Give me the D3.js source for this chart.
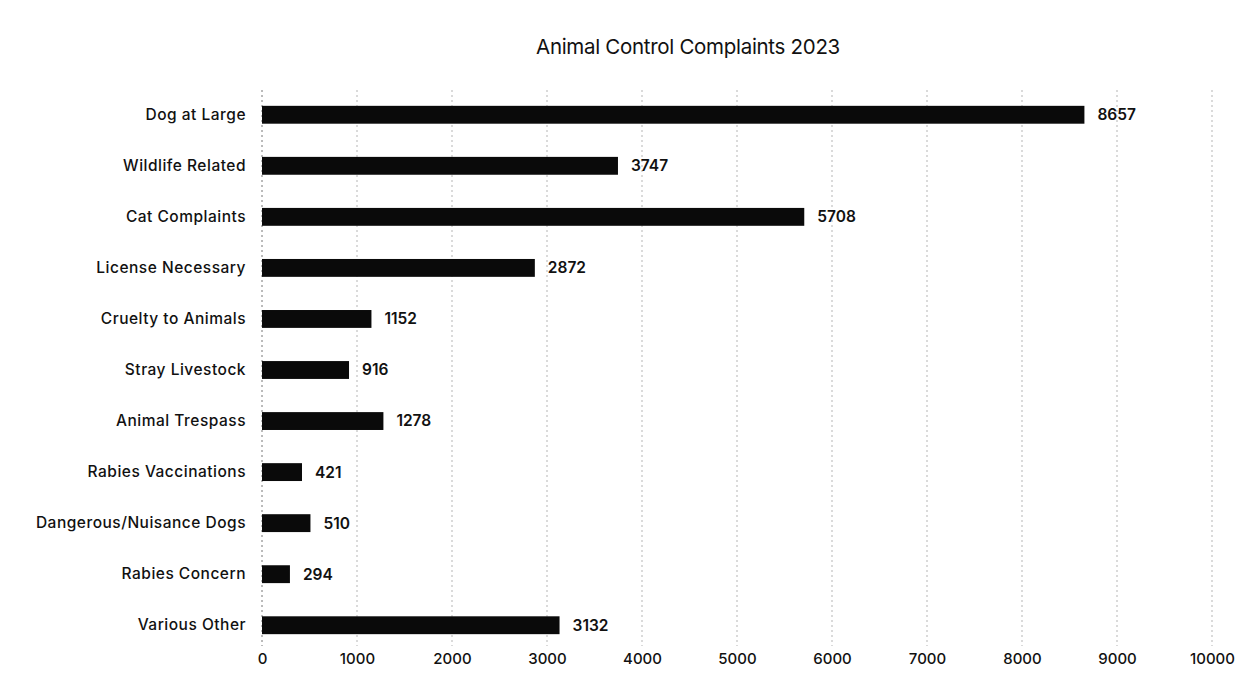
<!DOCTYPE html>
<html>
<head>
<meta charset="utf-8">
<script src="https://cdn.jsdelivr.net/npm/d3@7"></script>
<style>
  body { margin: 0; background: #fff; }
  text { font-family: Inter, Roboto, "Liberation Sans", sans-serif; fill: #111; }
</style>
</head>
<body>
<div id="chart"></div>
<script>
// Data
const categories = [
  'Dog at Large', 'Wildlife Related', 'Cat Complaints', 'License Necessary',
  'Cruelty to Animals', 'Stray Livestock', 'Animal Trespass', 'Rabies Vaccinations',
  'Dangerous/Nuisance Dogs', 'Rabies Concern', 'Various Other'
];
const counts = [8657, 3747, 5708, 2872, 1152, 916, 1278, 421, 510, 294, 3132];
const tickValues = [0, 1000, 2000, 3000, 4000, 5000, 6000, 7000, 8000, 9000, 10000];

const width = 1249, height = 692;
const margin = {top: 90, right: 38, bottom: 47, left: 262};

const svg = d3.select('#chart').append('svg')
    .attr('width', width)
    .attr('height', height);

const xScale = d3.scaleLinear()
    .domain([0, 10000])
    .range([margin.left, 1212]);

const yScale = d3.scaleBand()
    .domain(categories)
    .range([89.5, 650.5])
    .paddingInner(0.65)
    .paddingOuter(0.32);

// Title
svg.append('text')
    .attr('x', 688)
    .attr('y', 54)
    .attr('text-anchor', 'middle')
    .style('font-size', '20.5px')
    .style('font-weight', 400)
    .style('letter-spacing', '-0.3px')
    .text('Animal Control Complaints 2023');

// Gridlines
svg.append('g')
  .selectAll('line')
  .data(tickValues)
  .join('line')
    .attr('x1', d => xScale(d))
    .attr('x2', d => xScale(d))
    .attr('y1', 90)
    .attr('y2', 646)
    .attr('stroke', d => d === 0 ? '#777' : '#b5b5b5')
    .attr('stroke-width', 1)
    .attr('stroke-dasharray', '2,3');

// x axis (labels only)
const xAxis = d3.axisBottom(xScale)
    .tickValues(tickValues)
    .tickSize(0)
    .tickPadding(0)
    .tickFormat(d3.format('d'));

const xAxisG = svg.append('g')
    .attr('transform', 'translate(0,653)')
    .call(xAxis);
xAxisG.select('.domain').remove();
xAxisG.selectAll('text')
    .style('font-size', '15px')
    .style('font-weight', 500)
    .attr('fill', '#111');

// y axis (labels only)
const yAxis = d3.axisLeft(yScale).tickSize(0).tickPadding(16);
const yAxisG = svg.append('g')
    .attr('transform', `translate(${margin.left},0)`)
    .call(yAxis);
yAxisG.select('.domain').remove();
yAxisG.selectAll('text')
    .style('font-size', '15.5px')
    .style('font-weight', 500)
    .style('letter-spacing', '0.5px')
    .attr('fill', '#111');

// Bars
svg.append('g')
  .selectAll('rect')
  .data(categories)
  .join('rect')
    .attr('x', xScale(0))
    .attr('y', d => yScale(d))
    .attr('width', (d, i) => xScale(counts[i]) - xScale(0))
    .attr('height', yScale.bandwidth())
    .attr('fill', '#0a0a0a');

// Value labels
svg.append('g')
  .selectAll('text')
  .data(categories)
  .join('text')
    .attr('x', (d, i) => xScale(counts[i]) + 13)
    .attr('y', d => yScale(d) + yScale.bandwidth() / 2)
    .attr('dy', '0.35em')
    .style('font-size', '15.5px')
    .style('font-weight', 600)
    .text((d, i) => counts[i]);
</script>
</body>
</html>
